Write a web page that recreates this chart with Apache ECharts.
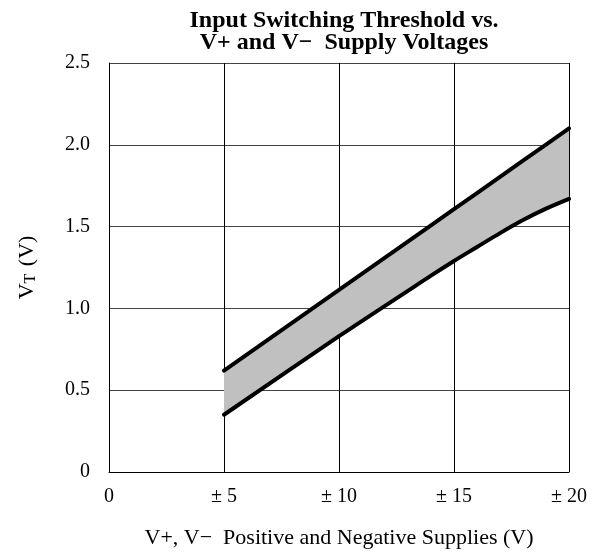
<!DOCTYPE html>
<html>
<head>
<meta charset="utf-8">
<script src="https://cdn.jsdelivr.net/npm/echarts@6/dist/echarts.min.js"></script>
<style>html,body{margin:0;padding:0;background:#fff;}#c{width:594px;height:554px;}</style>
</head>
<body>
<div id="c"></div>
<script>
// Data
const supply = [5, 10, 14, 15, 16, 17, 18, 19, 20];
const vtLow  = [0.35, 0.83, 1.20, 1.29, 1.375, 1.46, 1.54, 1.61, 1.67];
const vtHigh = [0.62, 1.113, 1.508, 1.607, 1.705, 1.804, 1.903, 2.001, 2.10];
const xTickLabels = {0: '0', 5: '± 5', 10: '± 10', 15: '± 15', 20: '± 20'};
const yTickLabels = {0: '0', 0.5: '0.5', 1: '1.0', 1.5: '1.5', 2: '2.0', 2.5: '2.5'};
const titleText = 'Input Switching Threshold vs.\nV+ and V\u2212  Supply Voltages';
const xName = 'V+, V\u2212  Positive and Negative Supplies (V)';

const font = '"Liberation Serif", "Times New Roman", serif';
const lowData = supply.map((x, i) => [x, vtLow[i]]);
const highData = supply.map((x, i) => [x, vtHigh[i]]);

const chart = echarts.init(document.getElementById('c'), null, {renderer: 'canvas'});
chart.setOption({
  animation: false,
  backgroundColor: '#fff',
  title: {
    text: titleText,
    left: 339, top: 5, textAlign: 'center',
    textStyle: {fontFamily: font, fontWeight: 'bold', fontSize: 24, lineHeight: 22, color: '#000'}
  },
  grid: {left: 109, right: 25, top: 63, bottom: 82},
  xAxis: {
    type: 'value', min: 0, max: 20, interval: 5,
    name: xName, nameLocation: 'middle', nameGap: 55,
    nameTextStyle: {fontFamily: font, fontSize: 22, color: '#000'},
    axisLine: {show: true, lineStyle: {color: '#000', width: 1}},
    axisTick: {show: false},
    axisLabel: {margin: 15, fontFamily: font, fontSize: 20, color: '#000',
      formatter: v => xTickLabels[v] !== undefined ? xTickLabels[v] : ''},
    splitLine: {show: true, lineStyle: {color: '#000', width: 1}}
  },
  yAxis: {
    type: 'value', min: 0, max: 2.5, interval: 0.5,
    name: '{v|V}{s|T}{v| (V)}', nameLocation: 'middle', nameGap: 70, nameRotate: 90,
    nameTextStyle: {
      rich: {
        v: {fontFamily: font, fontSize: 22, color: '#000'},
        s: {fontFamily: font, fontSize: 16, color: '#000', verticalAlign: 'bottom', padding: [8, 2, 0, 0]}
      }
    },
    axisLine: {show: true, lineStyle: {color: '#000', width: 1}},
    axisTick: {show: false},
    axisLabel: {margin: 19, fontFamily: font, fontSize: 20, color: '#000',
      formatter: v => yTickLabels[v] !== undefined ? yTickLabels[v] : ''},
    splitLine: {show: true, lineStyle: {color: '#444', width: 1}}
  },
  series: [
    {
      type: 'custom', data: [[supply[0], vtLow[0]]], z: 1, clip: true,
      renderItem: (params, api) => {
        const pts = highData.map(p => api.coord(p)).concat(lowData.slice().reverse().map(p => api.coord(p)));
        return {type: 'polygon', shape: {points: pts}, style: {fill: '#c0c0c0', stroke: null}};
      }
    },
    {
      type: 'line', data: lowData, symbol: 'none', z: 3, smooth: 0.3,
      lineStyle: {color: '#000', width: 4, cap: 'round', join: 'round'}
    },
    {
      type: 'line', data: highData, symbol: 'none', z: 3,
      lineStyle: {color: '#000', width: 4, cap: 'round', join: 'round'}
    }
  ]
});
</script>
</body>
</html>
